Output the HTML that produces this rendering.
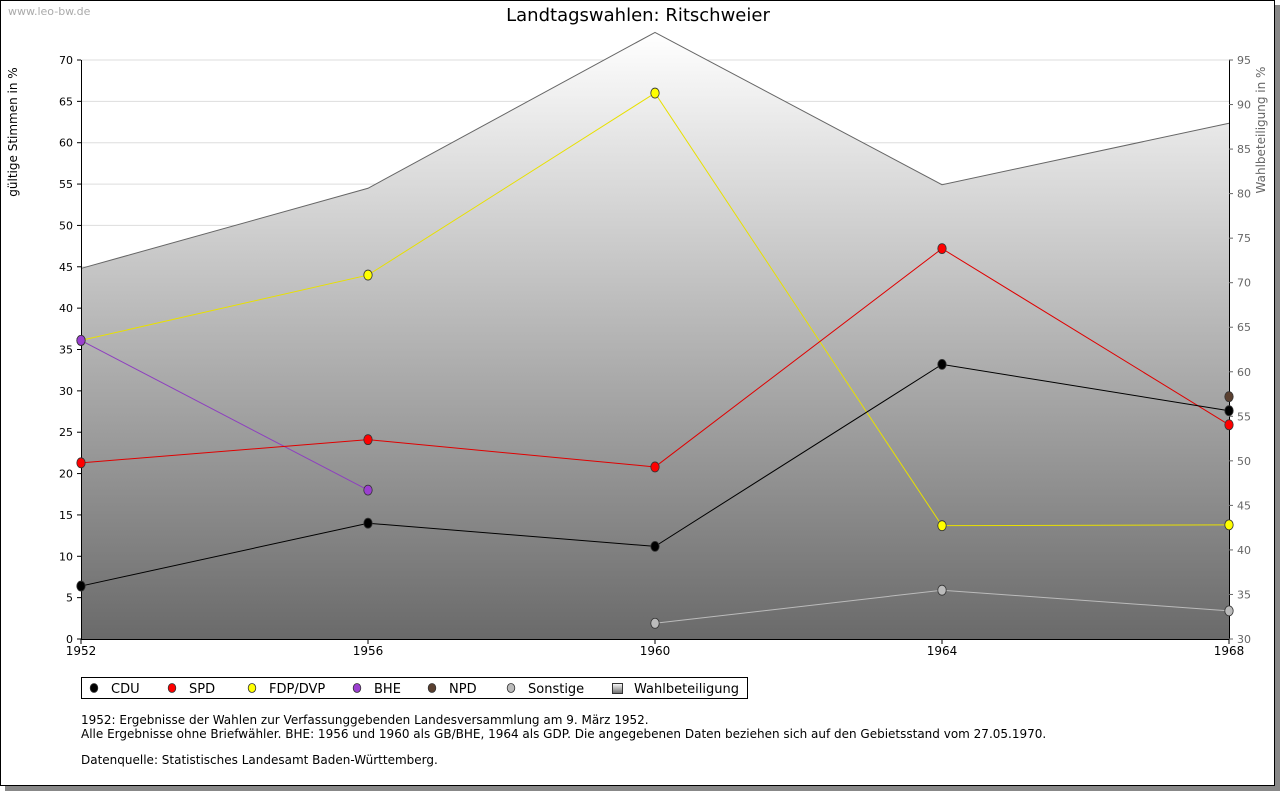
<!DOCTYPE html>
<html><head><meta charset="utf-8"><style>
body{margin:0;background:#fff;font-family:"Liberation Sans","DejaVu Sans",sans-serif}
svg text{font-family:"DejaVu Sans","Liberation Sans",sans-serif}
</style></head><body>
<svg id="c" width="1280" height="791" xmlns="http://www.w3.org/2000/svg">
<defs><linearGradient id="g" x1="0" y1="0" x2="0" y2="1"><stop offset="0" stop-color="#ffffff"/><stop offset="1" stop-color="#6a6a6a"/></linearGradient></defs>
<rect x="5" y="5" width="1275" height="786" fill="#888"/>
<rect x="0.5" y="0.5" width="1274" height="785" fill="#fff" stroke="#000"/>
<text x="8" y="15" font-size="11" fill="#aaa">www.leo-bw.de</text>
<text x="638" y="21" font-size="18" text-anchor="middle">Landtagswahlen: Ritschweier</text>
<text transform="translate(17,132) rotate(-90)" font-size="12" text-anchor="middle">gültige Stimmen in %</text>
<text transform="translate(1265,130) rotate(-90)" font-size="12" fill="#666" text-anchor="middle">Wahlbeteiligung in %</text>
<g id="plot"></g>
<rect x="81.5" y="677.5" width="666" height="21" fill="#fff" stroke="#000"/>
<g id="leg"></g>
<text x="81" y="724" font-size="12">1952: Ergebnisse der Wahlen zur Verfassunggebenden Landesversammlung am 9. März 1952.</text>
<text x="81" y="738" font-size="12">Alle Ergebnisse ohne Briefwähler. BHE: 1956 und 1960 als GB/BHE, 1964 als GDP. Die angegebenen Daten beziehen sich auf den Gebietsstand vom 27.05.1970.</text>
<text x="81" y="764" font-size="12">Datenquelle: Statistisches Landesamt Baden-Württemberg.</text>
</svg>
<script>
const years=[1952,1956,1960,1964,1968];
const cdu=[6.4,14.0,11.2,33.2,27.6];
const spd=[21.3,24.1,20.8,47.2,25.9];
const fdp=[36.1,44.0,66.0,13.7,13.8];
const bhe=[36.1,18.0,null,null,null];
const npd=[null,null,null,null,29.3];
const sonst=[null,null,1.9,5.9,3.4];
const turnout=[71.6,80.6,98.1,81.0,87.9];
const yTicks=[0,5,10,15,20,25,30,35,40,45,50,55,60,65,70];
const y2Ticks=[30,35,40,45,50,55,60,65,70,75,80,85,90,95];
const NS='http://www.w3.org/2000/svg';
const X0=81,X1=1229,YB=639,YT=60;
const xs=i=>X0+(years[i]-1952)/(1968-1952)*(X1-X0);
const ys=v=>YB-v/70*(YB-YT);
const y2=v=>YB-(v-30)/65*(YB-YT);
const plot=document.getElementById('plot');
function el(t,a,p){const e=document.createElementNS(NS,t);for(const k in a)e.setAttribute(k,a[k]);(p||plot).appendChild(e);return e;}
yTicks.forEach(t=>{const g=el('line',{x1:X0,x2:X1,y1:ys(t),y2:ys(t),stroke:'#ddd'});

});
let d='M'+xs(0)+','+YB;turnout.forEach((v,i)=>d+=' L'+xs(i)+','+y2(v));d+=' L'+xs(4)+','+YB+' Z';
const ar=el('path',{d:d,fill:'url(#g)'});


let d2='';turnout.forEach((v,i)=>d2+=(i?' L':'M')+xs(i)+','+y2(v));
const al=el('path',{d:d2,fill:'none',stroke:'#666'});


const ax=el('path',{d:`M${X0+.5},${YT} V${YB+.5} H${X1} M${X1+.5},${YT} V${YB}`,stroke:'#000',fill:'none'});


yTicks.forEach(t=>{const y=ys(t);el('line',{x1:X0-4,x2:X0,y1:y,y2:y,stroke:'#000'});
const tx=el('text',{x:X0-8,y:y+4,'font-size':11,'text-anchor':'end'});tx.textContent=t;

});
y2Ticks.forEach(t=>{const y=y2(t);el('line',{x1:X1,x2:X1+4,y1:y,y2:y,stroke:'#666'});
const tx=el('text',{x:X1+8,y:y+4,'font-size':11,fill:'#666'});tx.textContent=t;

});
years.forEach((yr,i)=>{el('line',{x1:xs(i),x2:xs(i),y1:YB,y2:YB+5,stroke:'#000'});
const tx=el('text',{x:xs(i),y:655,'font-size':12,'text-anchor':'middle'});tx.textContent=yr;

});
function series(vals,color,fill,name){
 let p='',first=true;vals.forEach((v,i)=>{if(v==null){first=true;return;}p+=(first?'M':'L')+xs(i)+','+ys(v)+' ';first=false;});
 const l=el('path',{d:p,fill:'none',stroke:color});
 
 
 vals.forEach((v,i)=>{if(v==null)return;const x=xs(i),y=ys(v);
  const m=el('ellipse',{cx:x,cy:y,rx:4.2,ry:5,fill:fill,stroke:'#333','stroke-width':0.8});
  
  });
}
series(sonst,'#bbb','#bbb','sonstige');
series(fdp,'#e8e000','#ffff00','fdp');
series(bhe,'#8e3fbf','#9b3fd0','bhe');
series(spd,'#e00000','#ff0000','spd');
series(cdu,'#000','#000','cdu');
series(npd,'#5a3a2a','#5a4030','npd');
const leg=document.getElementById('leg');
const items=[['CDU','#000',94],['SPD','#f00',172],['FDP/DVP','#ff0',252],['BHE','#9b3fd0',357],['NPD','#5a4030',432],['Sonstige','#bbb',511]];
items.forEach(([n,c,x])=>{const m=el('ellipse',{cx:x,cy:688,rx:3.8,ry:4.5,fill:c,stroke:'#333','stroke-width':0.8},leg);


const t=el('text',{x:x+17,y:693,'font-size':13},leg);t.textContent=n;

});
const r=el('rect',{x:612.5,y:683.5,width:10,height:10,fill:'url(#g)',stroke:'#333'},leg);


const t=el('text',{x:634,y:693,'font-size':13},leg);t.textContent='Wahlbeteiligung';


</script>
</body></html>
